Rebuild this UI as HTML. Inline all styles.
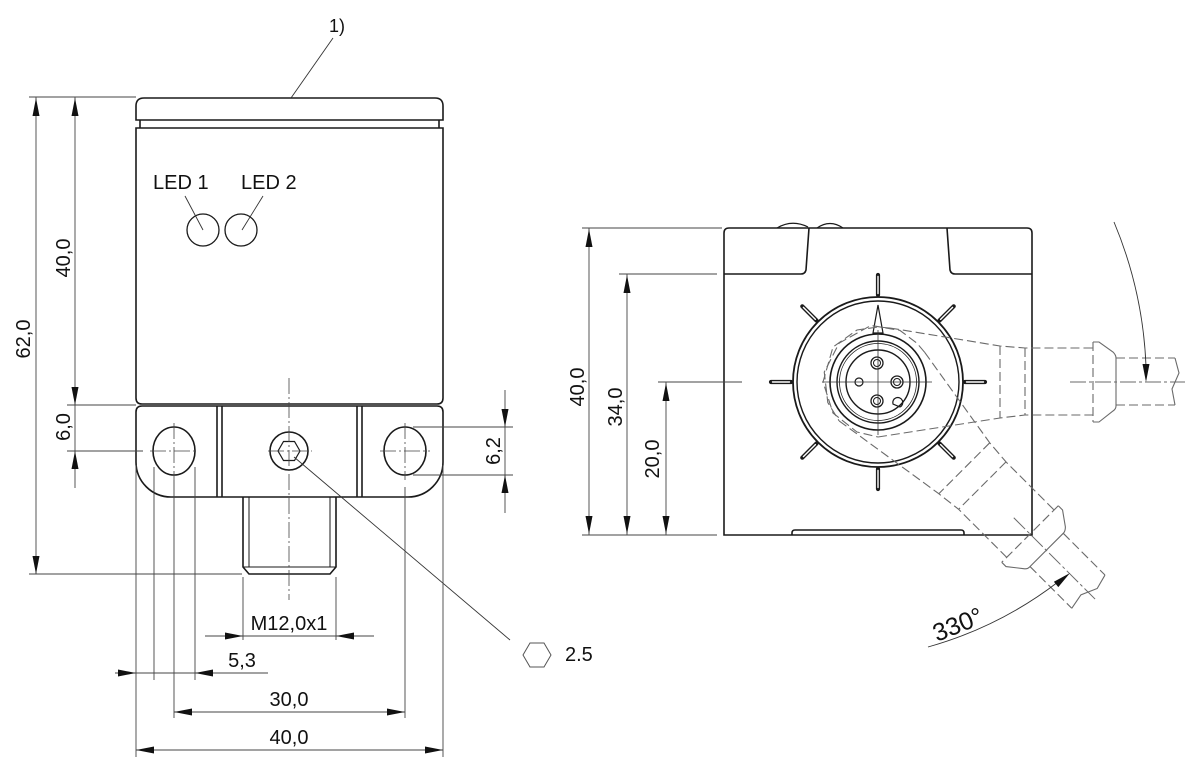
<!DOCTYPE html>
<html><head><meta charset="utf-8"><style>
html,body{margin:0;padding:0;background:#fff;}
svg{display:block;}
text{font-family:"Liberation Sans",Arial,sans-serif;fill:#111;}
</style></head><body>
<svg width="1200" height="773" viewBox="0 0 1200 773" xmlns="http://www.w3.org/2000/svg">
<rect width="1200" height="773" fill="#fff"/>

<!-- ============ LEFT VIEW ============ -->
<g fill="none" stroke="#1a1a1a" stroke-width="1.6">
  <path d="M136 120 V106 Q136 98 144 98 H435 Q443 98 443 106 V120 Z"/>
  <line x1="140" y1="120" x2="140" y2="128"/>
  <line x1="439" y1="120" x2="439" y2="128"/>
  <path d="M136 128 H443 V398 Q443 404 437 404 H142 Q136 404 136 398 Z"/>
  <path d="M136 412 Q136 406 142 406 H437 Q443 406 443 412 V462 A35 35 0 0 1 408 497 H171 A35 35 0 0 1 136 462 Z"/>
  <line x1="217" y1="406" x2="217" y2="497"/>
  <line x1="222" y1="406" x2="222" y2="497"/>
  <line x1="357" y1="406" x2="357" y2="497"/>
  <line x1="362" y1="406" x2="362" y2="497"/>
  <ellipse cx="174" cy="451" rx="21" ry="24"/>
  <ellipse cx="405" cy="451" rx="21" ry="24"/>
  <circle cx="289" cy="451" r="19"/>
  <polygon points="300,451 294.5,441.5 283.5,441.5 278,451 283.5,460.5 294.5,460.5" stroke-width="1.2"/>
  <path d="M243 497 V567 L249 574 H330 L336 567 V497"/>
  <line x1="243" y1="567" x2="336" y2="567" stroke-width="1"/>
  <line x1="249" y1="497" x2="249" y2="567" stroke-width="1"/>
  <line x1="330" y1="497" x2="330" y2="567" stroke-width="1"/>
  <circle cx="203" cy="230" r="16" stroke-width="1.3"/>
  <circle cx="241" cy="230" r="16" stroke-width="1.3"/>
</g>

<!-- leaders left -->
<g stroke="#333" stroke-width="0.9" fill="none">
  <line x1="333" y1="38" x2="291" y2="98"/>
  <line x1="185" y1="196" x2="203" y2="230"/>
  <line x1="263" y1="196" x2="242" y2="230"/>
  <line x1="294" y1="457" x2="510" y2="640"/>
</g>
<text x="329" y="32" font-size="18">1)</text>
<text x="153" y="189" font-size="20">LED 1</text>
<text x="241" y="189" font-size="20">LED 2</text>

<!-- centre lines left -->
<g stroke="#444" stroke-width="0.8" fill="none" stroke-dasharray="16 3 2 3">
  <line x1="289" y1="378" x2="289" y2="600"/>
  <line x1="150" y1="451" x2="198" y2="451"/>
  <line x1="380" y1="451" x2="430" y2="451"/>
  <line x1="268" y1="451" x2="312" y2="451"/>
  <line x1="174" y1="423" x2="174" y2="480"/>
  <line x1="405" y1="423" x2="405" y2="480"/>
</g>

<!-- extension & dimension lines left -->
<g stroke="#444" stroke-width="0.9" fill="none">
  <line x1="29" y1="97" x2="136" y2="97"/>
  <line x1="67" y1="405" x2="136" y2="405"/>
  <line x1="67" y1="451" x2="143" y2="451"/>
  <line x1="29" y1="574" x2="242" y2="574"/>
  <line x1="36" y1="97" x2="36" y2="574"/>
  <line x1="75" y1="97" x2="75" y2="488"/>
  <line x1="413" y1="427" x2="513" y2="427"/>
  <line x1="413" y1="475" x2="513" y2="475"/>
  <line x1="505" y1="390" x2="505" y2="513"/>
  <line x1="136" y1="465" x2="136" y2="757"/>
  <line x1="154" y1="467" x2="154" y2="680"/>
  <line x1="174" y1="480" x2="174" y2="718"/>
  <line x1="195" y1="467" x2="195" y2="680"/>
  <line x1="243" y1="577" x2="243" y2="640"/>
  <line x1="336" y1="577" x2="336" y2="640"/>
  <line x1="405" y1="487" x2="405" y2="718"/>
  <line x1="443" y1="465" x2="443" y2="757"/>
  <line x1="205" y1="636" x2="374" y2="636"/>
  <line x1="115" y1="673" x2="268" y2="673"/>
  <line x1="174" y1="712" x2="405" y2="712"/>
  <line x1="136" y1="750" x2="443" y2="750"/>
</g>
<g fill="#111" stroke="none">
  <polygon points="36,98 32.5,116 39.5,116"/>
  <polygon points="36,574 32.5,556 39.5,556"/>
  <polygon points="75,98 71.5,116 78.5,116"/>
  <polygon points="75,405 71.5,387 78.5,387"/>
  <polygon points="75,451 71.5,469 78.5,469"/>
  <polygon points="505,427 501.5,409 508.5,409"/>
  <polygon points="505,475 501.5,493 508.5,493"/>
  <polygon points="243,636 225,632.5 225,639.5"/>
  <polygon points="336,636 354,632.5 354,639.5"/>
  <polygon points="136,673 118,669.5 118,676.5"/>
  <polygon points="195,673 213,669.5 213,676.5"/>
  <polygon points="174,712 192,708.5 192,715.5"/>
  <polygon points="405,712 387,708.5 387,715.5"/>
  <polygon points="136,750 154,746.5 154,753.5"/>
  <polygon points="443,750 425,746.5 425,753.5"/>
</g>
<text font-size="20" text-anchor="middle" transform="translate(30,339) rotate(-90)">62,0</text>
<text font-size="20" text-anchor="middle" transform="translate(70,258) rotate(-90)">40,0</text>
<text font-size="20" text-anchor="middle" transform="translate(70,427) rotate(-90)">6,0</text>
<text font-size="20" text-anchor="middle" transform="translate(500,451) rotate(-90)">6,2</text>
<text x="289" y="630" font-size="20" text-anchor="middle">M12,0x1</text>
<text x="242" y="667" font-size="20" text-anchor="middle">5,3</text>
<text x="289" y="706" font-size="20" text-anchor="middle">30,0</text>
<text x="289" y="744" font-size="20" text-anchor="middle">40,0</text>
<polygon points="523,655 530,643 544,643 551,655 544,667 530,667" fill="none" stroke="#555" stroke-width="1"/>
<text x="565" y="661" font-size="20">2.5</text>

<!-- ============ RIGHT VIEW ============ -->
<g fill="none" stroke="#1a1a1a" stroke-width="1.6">
  <path d="M777 228 Q792 219 808 227" stroke-width="1.2"/>
  <path d="M817 228 Q830 219 843 228" stroke-width="1.2"/>
  <path d="M724 535 V233 Q724 228 729 228 H1027 Q1032 228 1032 233 V535 Z" fill="#fff"/>
  <path d="M809 228 L806 270 Q805 274 801 274 H724"/>
  <path d="M947 228 L950 270 Q951 274 955 274 H1032"/>
  <path d="M792 535 V533 Q792 530 795 530 H961 Q964 530 964 533 V535"/>
  <circle cx="878" cy="382" r="85" stroke-width="1.8"/>
  <circle cx="878" cy="382" r="81" stroke-width="1.4"/>
  <circle cx="878" cy="382" r="48"/>
  <circle cx="878" cy="382" r="41" stroke-width="1.4"/>
  <circle cx="878" cy="382" r="38.5" stroke-width="0.8"/>
  <circle cx="878" cy="382" r="32" stroke-width="1.4"/>
  <circle cx="877" cy="363" r="6" stroke-width="1.3"/>
  <circle cx="877" cy="363" r="3.5" stroke-width="1"/>
  <circle cx="897" cy="382" r="6" stroke-width="1.3"/>
  <circle cx="897" cy="382" r="3.5" stroke-width="1"/>
  <circle cx="877" cy="401" r="6" stroke-width="1.3"/>
  <circle cx="877" cy="401" r="3.5" stroke-width="1"/>
  <circle cx="859" cy="382" r="4" stroke-width="1.2"/>
  <path d="M893 404 A5 5 0 1 1 900 407 Z" stroke-width="1.2"/>
  <path d="M878 305 L873 333 L883 333 Z" stroke-width="1.2"/>
</g>
<!-- ticks -->
<g stroke-linecap="round">
  <g stroke="#1a1a1a" stroke-width="4.2">
    <line x1="878" y1="275" x2="878" y2="295"/>
    <line x1="878" y1="469" x2="878" y2="489"/>
    <line x1="771" y1="382" x2="791" y2="382"/>
    <line x1="965" y1="382" x2="985" y2="382"/>
    <line x1="802.3" y1="306.3" x2="816.5" y2="320.5"/>
    <line x1="953.7" y1="306.3" x2="939.5" y2="320.5"/>
    <line x1="802.3" y1="457.7" x2="816.5" y2="443.5"/>
    <line x1="953.7" y1="457.7" x2="939.5" y2="443.5"/>
  </g>
  <g stroke="#fff" stroke-width="1.4">
    <line x1="878" y1="276.5" x2="878" y2="293.5"/>
    <line x1="878" y1="470.5" x2="878" y2="487.5"/>
    <line x1="772.5" y1="382" x2="789.5" y2="382"/>
    <line x1="966.5" y1="382" x2="983.5" y2="382"/>
    <line x1="803.4" y1="307.4" x2="815.4" y2="319.4"/>
    <line x1="952.6" y1="307.4" x2="940.6" y2="319.4"/>
    <line x1="803.4" y1="456.6" x2="815.4" y2="444.6"/>
    <line x1="952.6" y1="456.6" x2="940.6" y2="444.6"/>
  </g>
</g>
<g stroke="#333" stroke-width="0.8">
  <line x1="822" y1="382" x2="932" y2="382"/>
  <line x1="878" y1="330" x2="878" y2="435"/>
</g>

<!-- cable (horizontal) -->
<g id="cable">
  <g fill="none" stroke="#6a6a6a" stroke-width="1.1" stroke-dasharray="9 4">
    <path d="M890 328 L878 327 L857 330 L833 347 L823 382 L833 413 L857 432 L878 437"/>
    <path d="M890 328 L1000 346 L1025 348 H1093"/>
    <path d="M878 437 L1000 418 L1025 415 H1093"/>
    <line x1="1000" y1="346" x2="1000" y2="418"/>
    <line x1="1025" y1="348" x2="1025" y2="415"/>
    <line x1="1093" y1="342" x2="1093" y2="422"/>
    <line x1="1116" y1="358" x2="1175" y2="358"/>
    <line x1="1116" y1="405" x2="1175" y2="405"/>
  </g>
  <path d="M1093 342 H1099 L1113 352 Q1116 355 1116 358 V406 Q1116 409 1113 411 L1099 422 H1093" fill="none" stroke="#6a6a6a" stroke-width="1.1"/>
  <path d="M1175 358 L1179 373 L1172 389 L1175 405" fill="none" stroke="#6a6a6a" stroke-width="1.1"/>
  <line x1="1070" y1="382" x2="1185" y2="382" stroke="#6a6a6a" stroke-width="1" stroke-dasharray="16 3 3 3"/>
</g>
<g transform="rotate(45 878 382)">
  <g fill="none" stroke="#6a6a6a" stroke-width="1.1" stroke-dasharray="9 4">
    <path d="M890 328 L878 327 L857 330 L833 347 L823 382 L833 413 L857 432 L878 437"/>
    <path d="M890 328 L1000 346 L1025 348 H1093"/>
    <path d="M878 437 L1000 418 L1025 415 H1093"/>
    <line x1="1000" y1="346" x2="1000" y2="418"/>
    <line x1="1025" y1="348" x2="1025" y2="415"/>
    <line x1="1093" y1="342" x2="1093" y2="422"/>
    <line x1="1116" y1="358" x2="1175" y2="358"/>
    <line x1="1116" y1="405" x2="1175" y2="405"/>
  </g>
  <path d="M1093 342 H1099 L1113 352 Q1116 355 1116 358 V406 Q1116 409 1113 411 L1099 422 H1093" fill="none" stroke="#6a6a6a" stroke-width="1.1"/>
  <path d="M1175 358 L1179 373 L1172 389 L1175 405" fill="none" stroke="#6a6a6a" stroke-width="1.1"/>
  <line x1="1070" y1="382" x2="1185" y2="382" stroke="#6a6a6a" stroke-width="1" stroke-dasharray="16 3 3 3"/>
</g>

<!-- angle arcs -->
<g fill="none" stroke="#333" stroke-width="0.9">
  <path d="M1114 222 A416 416 0 0 1 1146 366"/>
  <path d="M928 647 A385 385 0 0 0 1058 582"/>
</g>
<g fill="#111">
  <polygon points="1146,382 1142.5,364 1149.5,364"/>
  <polygon points="1070,573 1058.3,587.1 1053.9,581.7"/>
</g>
<text font-size="25" transform="translate(937,642) rotate(-22)">330°</text>

<!-- dims right view -->
<g stroke="#444" stroke-width="0.9" fill="none">
  <line x1="582" y1="228" x2="722" y2="228"/>
  <line x1="619" y1="274" x2="717" y2="274"/>
  <line x1="658" y1="382" x2="742" y2="382"/>
  <line x1="582" y1="535" x2="717" y2="535"/>
  <line x1="589" y1="228" x2="589" y2="535"/>
  <line x1="627" y1="274" x2="627" y2="535"/>
  <line x1="666" y1="382" x2="666" y2="535"/>
</g>
<g fill="#111">
  <polygon points="589,229 585.5,247 592.5,247"/>
  <polygon points="589,534 585.5,516 592.5,516"/>
  <polygon points="627,275 623.5,293 630.5,293"/>
  <polygon points="627,534 623.5,516 630.5,516"/>
  <polygon points="666,383 662.5,401 669.5,401"/>
  <polygon points="666,534 662.5,516 669.5,516"/>
</g>
<text font-size="20" text-anchor="middle" transform="translate(584,387) rotate(-90)">40,0</text>
<text font-size="20" text-anchor="middle" transform="translate(622,407) rotate(-90)">34,0</text>
<text font-size="20" text-anchor="middle" transform="translate(659,459) rotate(-90)">20,0</text>
</svg>
</body></html>
